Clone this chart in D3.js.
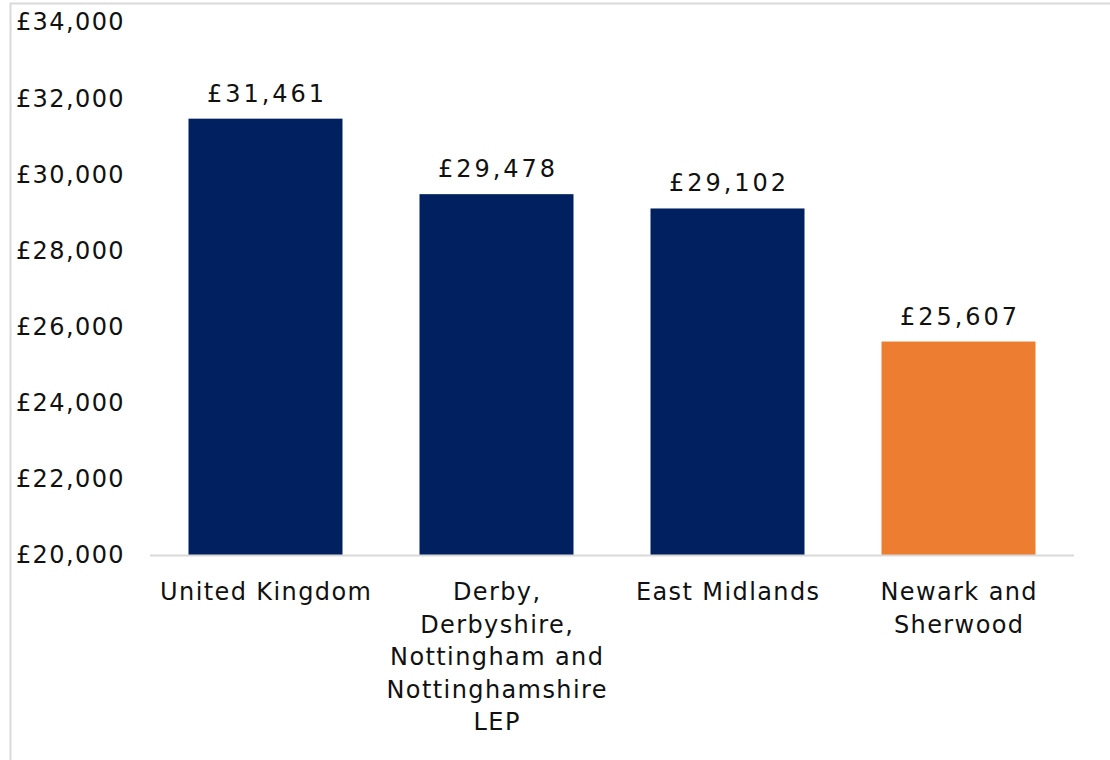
<!DOCTYPE html>
<html>
<head>
<meta charset="utf-8">
<script src="https://cdn.jsdelivr.net/npm/d3@7"></script>
<style>
  body { margin: 0; background: #fff; }
  text { font-family: "DejaVu Sans", Verdana, sans-serif; fill: #111; }
</style>
</head>
<body>
<div id="chart"></div>
<script>
const categories = ['United Kingdom', 'Derby, Derbyshire, Nottingham and Nottinghamshire LEP', 'East Midlands', 'Newark and Sherwood'];
const categoryLines = [
  ['United Kingdom'],
  ['Derby,', 'Derbyshire,', 'Nottingham and', 'Nottinghamshire', 'LEP'],
  ['East Midlands'],
  ['Newark and', 'Sherwood']
];
const values = [31461, 29478, 29102, 25607];
const barColors = ['#002060', '#002060', '#002060', '#ED7D31'];
const yTicks = [20000, 22000, 24000, 26000, 28000, 30000, 32000, 34000];

const width = 1110, height = 760;

const svg = d3.select('#chart').append('svg')
  .attr('width', width)
  .attr('height', height);

// outer chart border (cut off right and bottom)
svg.append('rect')
  .attr('x', 10.5)
  .attr('y', 3.5)
  .attr('width', 1110)
  .attr('height', 800)
  .attr('fill', 'none')
  .attr('stroke', '#d9d9d9')
  .attr('stroke-width', 2);

const x = d3.scaleBand()
  .domain(categories)
  .range([150, 1074])
  .paddingInner(1 / 3)
  .paddingOuter(1 / 6);

const y = d3.scaleLinear()
  .domain([20000, 34000])
  .range([555, 22]);

const money = v => '£' + d3.format(',')(v);

// y axis labels
svg.append('g')
  .selectAll('text')
  .data(yTicks)
  .join('text')
  .attr('x', 125)
  .attr('y', d => y(d))
  .attr('dy', '0.35em')
  .attr('text-anchor', 'end')
  .attr('font-size', 24)
  .attr('letter-spacing', 1.4)
  .text(d => money(d));

// bars
svg.append('g')
  .selectAll('rect')
  .data(values)
  .join('rect')
  .attr('x', (d, i) => x(categories[i]))
  .attr('y', d => y(d))
  .attr('width', x.bandwidth())
  .attr('height', d => y(20000) - y(d))
  .attr('fill', (d, i) => barColors[i]);

// baseline
svg.append('line')
  .attr('x1', 150)
  .attr('x2', 1074)
  .attr('y1', y(20000) + 0.5)
  .attr('y2', y(20000) + 0.5)
  .attr('stroke', '#d9d9d9')
  .attr('stroke-width', 2);

// value labels
svg.append('g')
  .selectAll('text')
  .data(values)
  .join('text')
  .attr('x', (d, i) => x(categories[i]) + x.bandwidth() / 2 + 1.5)
  .attr('y', d => y(d) - 17)
  .attr('text-anchor', 'middle')
  .attr('font-size', 24)
  .attr('letter-spacing', 3)
  .text(d => money(d));

// category labels
const cat = svg.append('g')
  .selectAll('text')
  .data(categories)
  .join('text')
  .attr('x', d => x(d) + x.bandwidth() / 2 + 0.7)
  .attr('y', 600)
  .attr('text-anchor', 'middle')
  .attr('font-size', 24)
  .attr('letter-spacing', 1.4);

cat.selectAll('tspan')
  .data((d, i) => categoryLines[i])
  .join('tspan')
  .attr('x', function () { return d3.select(this.parentNode).attr('x'); })
  .attr('dy', (d, i) => i === 0 ? 0 : 32.5)
  .text(d => d);
</script>
</body>
</html>
